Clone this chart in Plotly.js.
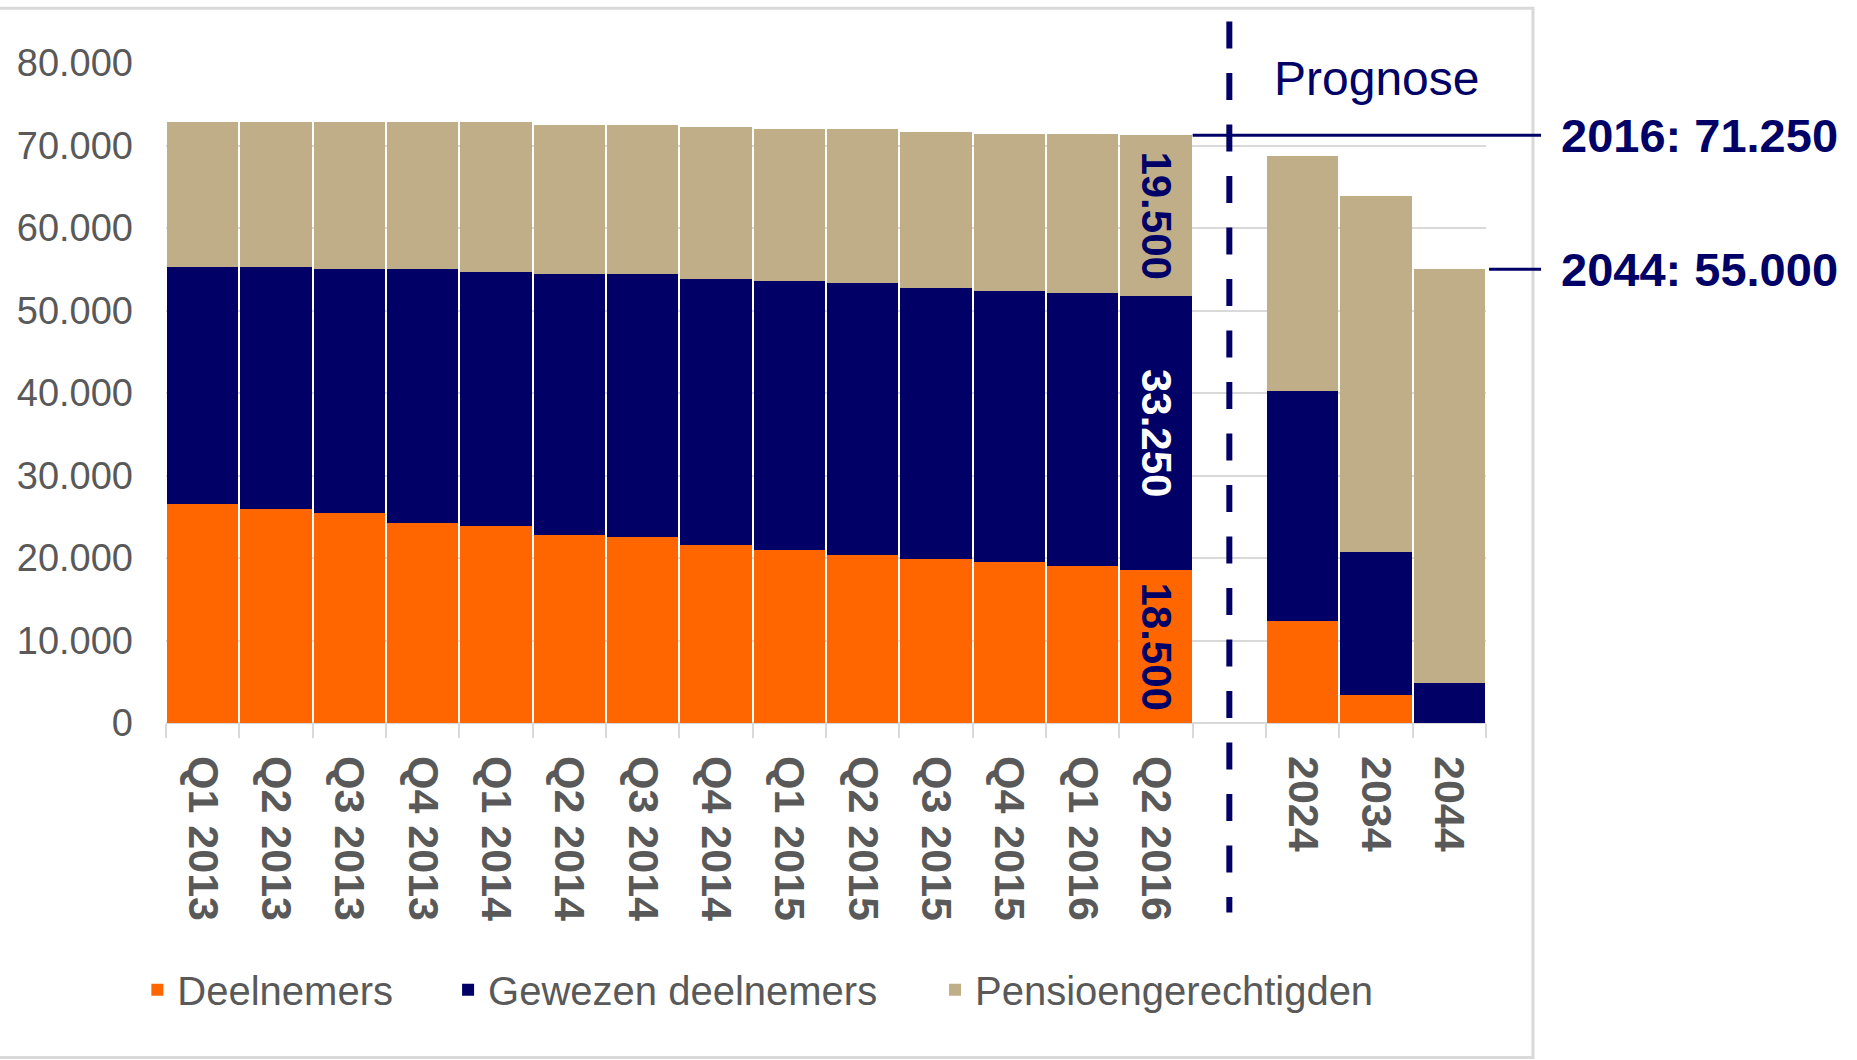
<!DOCTYPE html>
<html>
<head>
<meta charset="utf-8">
<script src="https://cdn.plot.ly/plotly-3.0.1.min.js"></script>
<style>
  html, body { margin: 0; padding: 0; background: #fff; }
</style>
</head>
<body>
<div id="plot" style="width:1857px;height:1060px"></div>
<script>
// categorieen: kwartalen, een lege kolom voor de scheidslijn, prognosejaren
const kwartalen = ['Q1 2013', 'Q2 2013', 'Q3 2013', 'Q4 2013',
                   'Q1 2014', 'Q2 2014', 'Q3 2014', 'Q4 2014',
                   'Q1 2015', 'Q2 2015', 'Q3 2015', 'Q4 2015',
                   'Q1 2016', 'Q2 2016'];
const leeg = [''];
const prognoseJaren = ['2024', '2034', '2044'];
const categorieen = kwartalen.concat(leeg, prognoseJaren);

const deelnemers = [26500, 25950, 25400, 24200, 23900, 22750, 22500, 21600, 21000, 20400, 19850, 19550, 19000, 18500,
                    null, 12350, 3450, 0];
const gewezenDeelnemers = [28800, 29350, 29600, 30800, 30800, 31650, 31900, 32250, 32550, 32900, 32850, 32850, 33150, 33250,
                           null, 27950, 17300, 4900];
const pensioengerechtigden = [17500, 17500, 17800, 17800, 18100, 18100, 18100, 18350, 18400, 18650, 18950, 18950, 19200, 19500,
                              null, 28450, 43150, 50100];

const FONT = '"Liberation Sans", Arial, sans-serif';
const ORANJE = '#FF6600';
const BLAUW = '#000066';
const ZAND = '#C0AE88';
const GRIJS = '#595959';
const LIJN = '#D9D9D9';

// 18500 -> "18.500"
function fmt(v) {
    return String(Math.round(v)).replace(/\B(?=(\d{3})+(?!\d))/g, '.');
}

const n = categorieen.length;
const posities = categorieen.map((c, i) => i);
const laatste = kwartalen.length - 1;
const laatstePrognose = n - 1;

function totaal(i) {
    return (deelnemers[i] || 0) + (gewezenDeelnemers[i] || 0) + (pensioengerechtigden[i] || 0);
}

function balk(naam, waarden, kleur, tekstKleur, legendId) {
    return {
        type: 'bar',
        name: naam,
        x: posities,
        y: waarden,
        marker: { color: kleur },
        text: waarden.map((v, i) => i === laatste ? fmt(v) : ''),
        textposition: 'inside',
        insidetextanchor: 'middle',
        textangle: 90,
        constraintext: 'none',
        textfont: { family: FONT, size: 42, color: tekstKleur, weight: 'bold' },
        legend: legendId,
        hoverinfo: 'skip'
    };
}

const data = [
    balk('Deelnemers', deelnemers, ORANJE, BLAUW, 'legend'),
    balk('Gewezen deelnemers', gewezenDeelnemers, BLAUW, '#FFFFFF', 'legend2'),
    balk('Pensioengerechtigden', pensioengerechtigden, ZAND, BLAUW, 'legend3')
];

const xScheiding = (categorieen.indexOf('') + 0.5) / n;
const totaal2016 = totaal(laatste);
const totaal2044 = totaal(laatstePrognose);

function legenda(x) {
    return {
        orientation: 'h', x: x, xanchor: 'left', y: -0.404, yanchor: 'middle',
        font: { family: FONT, size: 40, color: GRIJS },
        bgcolor: 'rgba(0,0,0,0)', borderwidth: 0
    };
}

const layout = {
    width: 1857,
    height: 1060,
    margin: { l: 166, r: 371, t: 63, b: 337 },
    barmode: 'stack',
    bargap: 0.027,
    separators: ',.',
    paper_bgcolor: '#FFFFFF',
    plot_bgcolor: '#FFFFFF',
    font: { family: FONT, color: GRIJS },
    showlegend: true,
    legend: legenda(-0.0217),
    legend2: legenda(0.2137),
    legend3: legenda(0.5826),
    xaxis: {
        type: 'linear',
        range: [-0.5, n - 0.5],
        tickmode: 'array',
        tickvals: posities,
        ticktext: categorieen,
        tickangle: 90,
        ticks: '',
        ticklabelstandoff: 32,
        tickfont: { family: FONT, size: 43, color: GRIJS, weight: 'bold' },
        // streepjes op de grenzen tussen de kolommen
        minor: { tick0: 0.5, dtick: 1, ticks: 'outside', ticklen: 14, tickwidth: 2, tickcolor: LIJN, showgrid: false },
        showgrid: false,
        showline: false,
        zeroline: false
    },
    yaxis: {
        range: [0, 80000],
        dtick: 10000,
        tickformat: ',d',
        ticks: '',
        ticklabelstandoff: 32,
        tickfont: { family: FONT, size: 38, color: GRIJS },
        showgrid: true,
        gridcolor: LIJN,
        gridwidth: 2,
        zeroline: true,
        zerolinecolor: LIJN,
        zerolinewidth: 2
    },
    shapes: [
        // kader rond de grafiek
        { type: 'rect', xref: 'paper', yref: 'paper', x0: -0.13, x1: 1.0356, y0: -0.507, y1: 1.083,
          line: { color: LIJN, width: 3 }, fillcolor: 'rgba(0,0,0,0)', layer: 'below' },
        // scheiding realisatie / prognose
        { type: 'line', xref: 'paper', yref: 'paper', x0: xScheiding, x1: xScheiding, y0: 1.063, y1: -0.287,
          line: { color: BLAUW, width: 6, dash: '27px,24.5px' } },
        { type: 'line', xref: 'paper', yref: 'y', x0: (laatste + 1) / n, x1: 1.0417, y0: totaal2016, y1: totaal2016,
          line: { color: BLAUW, width: 3 } },
        { type: 'line', xref: 'paper', yref: 'y', x0: 1.0023, x1: 1.0417, y0: totaal2044, y1: totaal2044,
          line: { color: BLAUW, width: 3 } }
    ],
    annotations: [
        { xref: 'x', yref: 'paper', x: n - 2, y: 0.976, yanchor: 'middle', showarrow: false,
          text: 'Prognose', font: { family: FONT, size: 48, color: BLAUW } },
        { xref: 'paper', yref: 'y', x: 1.0553, y: totaal2016, xanchor: 'left', yanchor: 'middle', showarrow: false,
          text: kwartalen[laatste].split(' ')[1] + ': ' + fmt(totaal2016),
          font: { family: FONT, size: 47, color: BLAUW, weight: 'bold' } },
        { xref: 'paper', yref: 'y', x: 1.0553, y: totaal2044, xanchor: 'left', yanchor: 'middle', showarrow: false,
          text: prognoseJaren[2] + ': ' + fmt(totaal2044),
          font: { family: FONT, size: 47, color: BLAUW, weight: 'bold' } }
    ]
};

Plotly.newPlot('plot', data, layout, { staticPlot: true });
</script>
</body>
</html>
